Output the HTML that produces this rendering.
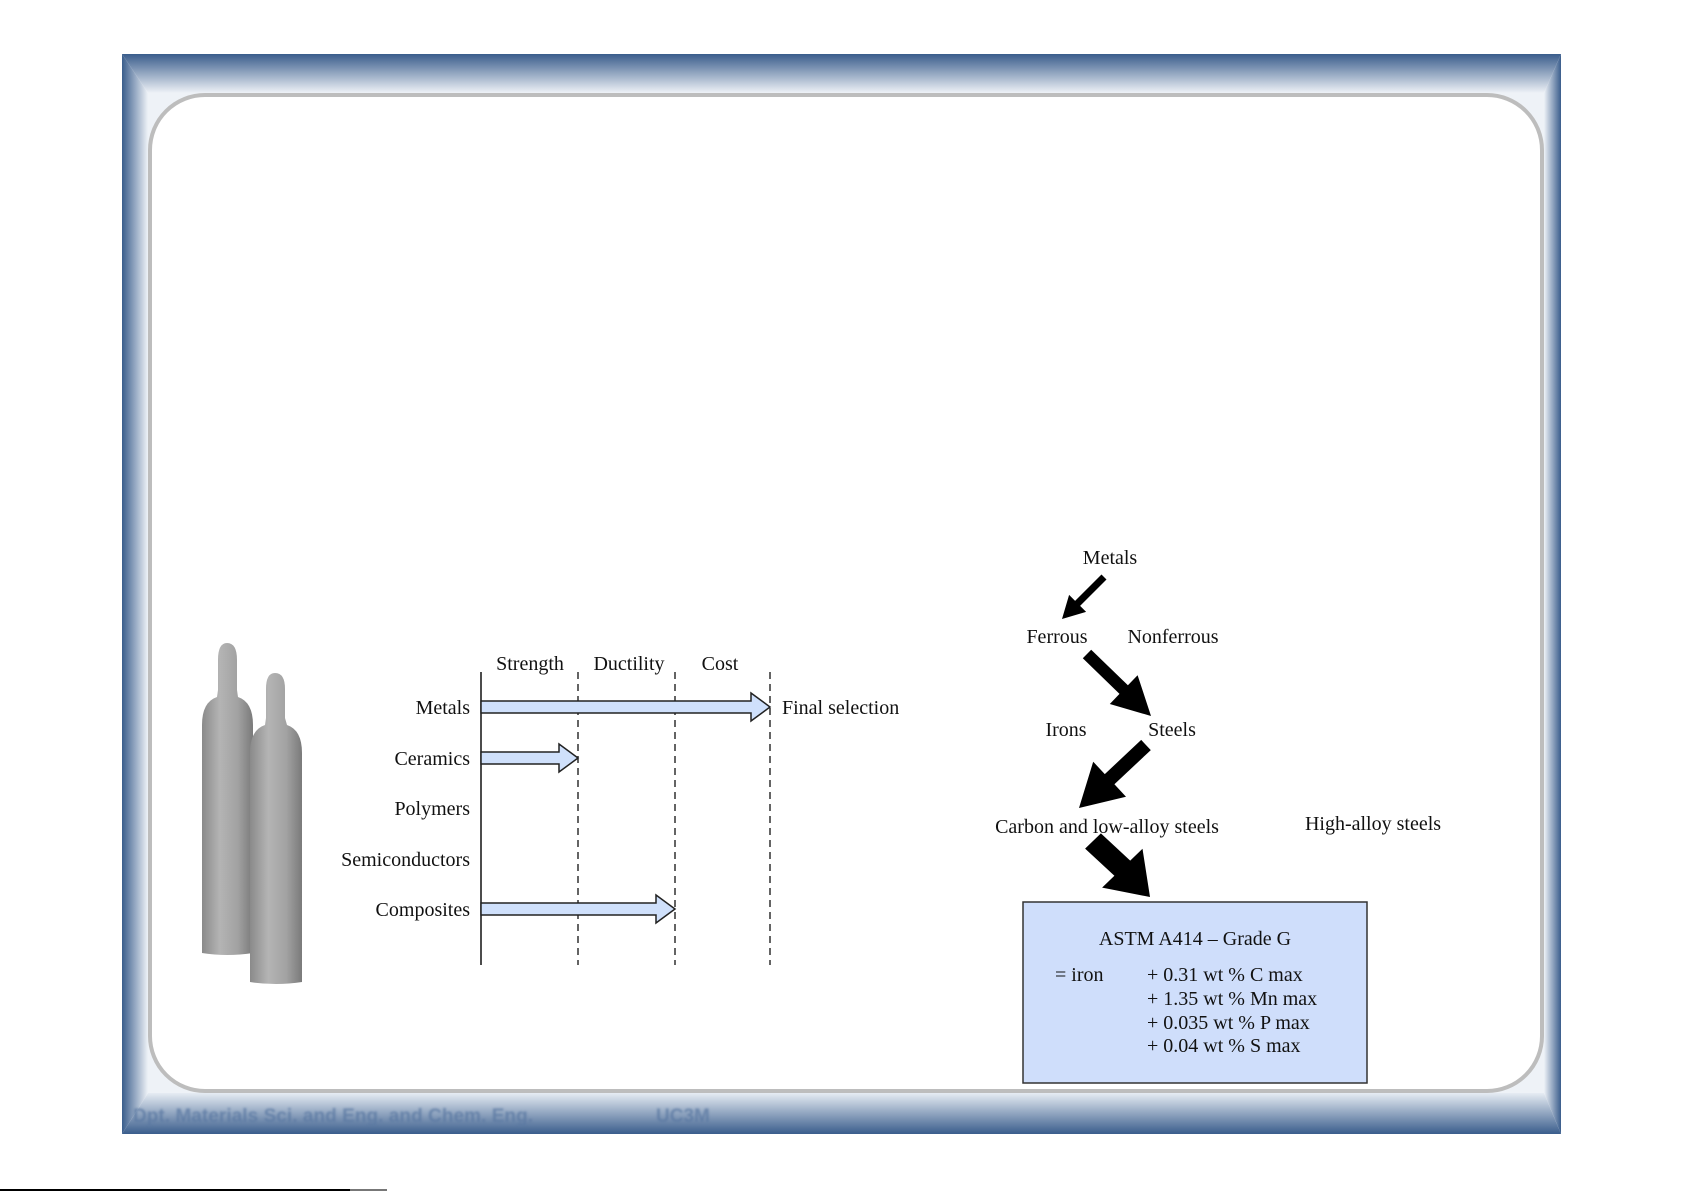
<!DOCTYPE html>
<html><head><meta charset="utf-8"><style>
html,body{margin:0;padding:0;background:#fff;}
svg{display:block;}
text{font-family:"Liberation Serif",serif;fill:#111;}
</style></head><body>
<svg width="1685" height="1191" viewBox="0 0 1685 1191" xmlns="http://www.w3.org/2000/svg">
<defs>
<linearGradient id="gt" x1="0" y1="0" x2="0" y2="1"><stop offset="0" stop-color="#3a5d8c"/><stop offset="1" stop-color="#eef2f7"/></linearGradient>
<linearGradient id="gb" x1="0" y1="0" x2="0" y2="1"><stop offset="0" stop-color="#e6ecf3"/><stop offset="1" stop-color="#3a5d8c"/></linearGradient>
<linearGradient id="gl" x1="0" y1="0" x2="1" y2="0"><stop offset="0" stop-color="#3a5d8c"/><stop offset="1" stop-color="#eef2f7"/></linearGradient>
<linearGradient id="gr" x1="0" y1="0" x2="1" y2="0"><stop offset="0" stop-color="#eef2f7"/><stop offset="1" stop-color="#3a5d8c"/></linearGradient>
<linearGradient id="cyl" x1="0" y1="0" x2="1" y2="0"><stop offset="0" stop-color="#8a8a8a"/><stop offset="0.35" stop-color="#b4b4b4"/><stop offset="0.7" stop-color="#a2a2a2"/><stop offset="1" stop-color="#7a7a7a"/></linearGradient>
<filter id="bl"><feGaussianBlur stdDeviation="1"/></filter>
</defs>
<!-- frame -->
<rect x="148" y="93" width="1396" height="1000" fill="#eef2f7"/>
<polygon points="122,54 1561,54 1544,93 148,93" fill="url(#gt)"/>
<polygon points="122,1134 148,1093 1544,1093 1561,1134" fill="url(#gb)"/>
<polygon points="122,54 148,93 148,1093 122,1134" fill="url(#gl)"/>
<polygon points="1561,54 1544,93 1544,1093 1561,1134" fill="url(#gr)"/>
<rect x="150" y="95" width="1392" height="996" rx="55" ry="55" fill="#fff" stroke="#bdbdbd" stroke-width="4"/>
<g filter="url(#bl)" opacity="0.75">
<text x="133" y="1122" font-weight="bold" font-size="19" style="fill:#5a78a2;font-family:'Liberation Sans',sans-serif" textLength="400">Dpt. Materials Sci. and Eng. and Chem. Eng.</text>
<text x="656" y="1122" font-weight="bold" font-size="19" style="fill:#5a78a2;font-family:'Liberation Sans',sans-serif">UC3M</text>
</g>
<rect x="0" y="1189" width="350" height="2" fill="#000"/>
<rect x="350" y="1189" width="37" height="2" fill="#777"/>

<!-- cylinders -->
<path d="M202,953 L202,725 Q202,702 217,697 L218,690 L218,660 Q218,643 227,643 Q237,643 237,660 L237,690 L238,697 Q253,702 253,725 L253,953 Q227,957 202,953 Z" fill="url(#cyl)"/>
<path d="M250,982 L250,753 Q250,730 265,725 L266,718 L266,689 Q266,673 275,673 Q285,673 285,689 L285,718 L287,725 Q302,730 302,753 L302,982 Q276,986 250,982 Z" fill="url(#cyl)"/>

<!-- chart -->
<line x1="481" y1="672" x2="481" y2="965" stroke="#111" stroke-width="1.5"/>
<g stroke="#111" stroke-width="1.3" stroke-dasharray="7,5">
<line x1="578" y1="672" x2="578" y2="965"/><line x1="675" y1="672" x2="675" y2="965"/><line x1="770" y1="672" x2="770" y2="965"/>
</g>
<g font-size="20" text-anchor="middle">
<text x="530" y="670">Strength</text><text x="629" y="670">Ductility</text><text x="720" y="670">Cost</text>
</g>
<g font-size="20" text-anchor="end">
<text x="470" y="714">Metals</text><text x="470" y="765">Ceramics</text><text x="470" y="815">Polymers</text><text x="470" y="866">Semiconductors</text><text x="470" y="916">Composites</text>
</g>
<text x="782" y="714" font-size="20">Final selection</text>
<g fill="#cfe0fb" stroke="#222" stroke-width="1.5">
<polygon points="481,701 751,701 751,693 770,707 751,721 751,713 481,713"/>
<polygon points="481,752 559,752 559,744 578,758 559,772 559,764 481,764"/>
<polygon points="481,903 656,903 656,895 675,909 656,923 656,915 481,915"/>
</g>

<!-- tree -->
<g font-size="20" text-anchor="middle">
<text x="1110" y="564">Metals</text>
<text x="1057" y="643">Ferrous</text><text x="1173" y="643">Nonferrous</text>
<text x="1066" y="736">Irons</text><text x="1172" y="736">Steels</text>
<text x="1107" y="833">Carbon and low-alloy steels</text>
<text x="1373" y="830">High-alloy steels</text>
</g>
<g fill="#000">
<polygon points="1106.5,579.5 1080.1,605.9 1086.1,611.9 1062,619 1069.1,594.9 1075.1,600.9 1101.5,574.5"/>
<polygon points="1082.8,658.3 1119.5,693.9 1109.8,704 1151,716 1137.6,675.2 1127.9,685.3 1091.2,649.7"/>
<polygon points="1150.8,750.1 1114.4,784.3 1126,796.7 1079,808 1093.2,761.7 1104.8,774.1 1141.2,739.9"/>
<polygon points="1085.1,848.6 1114.4,875.8 1102.1,887.6 1150,897 1142.5,848.8 1130.2,860.6 1100.9,833.4"/>
</g>
<rect x="1023" y="902" width="344" height="181" fill="#cfdefb" stroke="#333" stroke-width="1.5"/>
<text x="1195" y="945" font-size="20" text-anchor="middle">ASTM A414 – Grade G</text>
<g font-size="20">
<text x="1055" y="981">= iron</text>
<text x="1147" y="981">+ 0.31 wt % C max</text>
<text x="1147" y="1005">+ 1.35 wt % Mn max</text>
<text x="1147" y="1029">+ 0.035 wt % P max</text>
<text x="1147" y="1052">+ 0.04 wt % S max</text>
</g>
</svg>
</body></html>
